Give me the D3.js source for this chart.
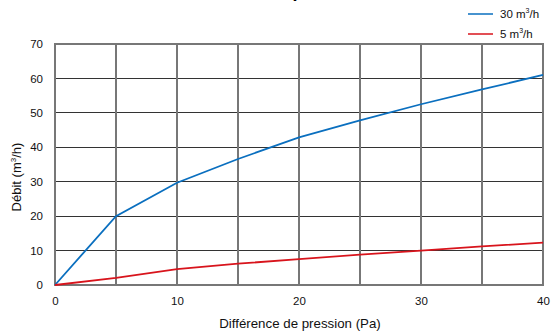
<!DOCTYPE html>
<html><head><meta charset="utf-8">
<script src="https://cdn.jsdelivr.net/npm/d3@7"></script>
<style>body{margin:0;background:#fff}svg{display:block;font-family:"Liberation Sans",Arial,sans-serif}</style>
</head><body>
<svg id="c" width="551" height="331"></svg>
<script>
const pressure = [0, 5, 10, 15, 20, 25, 30, 35, 40];
const flow30 = [0, 20, 29.7, 36.6, 42.9, 47.8, 52.5, 56.8, 61];
const flow5 = [0, 2.1, 4.6, 6.2, 7.5, 8.8, 10, 11.2, 12.3];
const seriesNames = ["30 m³/h", "5 m³/h"];
const xTicks = [0, 10, 20, 30, 40];
const yTicks = [0, 10, 20, 30, 40, 50, 60, 70];
const title = "Débit / pression";

const svg = d3.select("#c");
const m = {l: 55, r: 543, t: 44, b: 285};
const x = d3.scaleLinear().domain([0, 40]).range([m.l, m.r]);
const y = d3.scaleLinear().domain([0, 70]).range([m.b, m.t]);

svg.append("text").attr("x", 300).attr("y", -3).attr("text-anchor", "middle")
  .attr("font-size", 18).attr("font-weight", "bold").text(title);

// horizontal grid
svg.append("g").selectAll("line").data(yTicks).join("line")
  .attr("x1", m.l).attr("x2", m.r).attr("y1", d => y(d)).attr("y2", d => y(d))
  .attr("stroke", "#333").attr("stroke-width", 1).attr("shape-rendering", "crispEdges");
// vertical grid every 5
svg.append("g").selectAll("line").data(d3.range(0, 41, 5)).join("line")
  .attr("x1", d => x(d)).attr("x2", d => x(d)).attr("y1", m.t).attr("y2", m.b)
  .attr("stroke", "#777").attr("stroke-width", 1.5).attr("shape-rendering", "crispEdges");
// frame
svg.append("rect").attr("x", m.l).attr("y", m.t).attr("width", m.r - m.l).attr("height", m.b - m.t)
  .attr("fill", "none").attr("stroke", "#777").attr("stroke-width", 1.5).attr("shape-rendering", "crispEdges");

// axes labels via d3 axes
const ya = svg.append("g").attr("transform", `translate(${m.l},0)`)
  .call(d3.axisLeft(y).tickValues(yTicks).tickSize(0).tickPadding(12));
const xa = svg.append("g").attr("transform", `translate(0,${m.b})`)
  .call(d3.axisBottom(x).tickValues(xTicks).tickSize(0).tickPadding(12));
[ya, xa].forEach(g => { g.select(".domain").remove();
  g.selectAll("text").attr("font-size", 11.5).attr("fill", "#111").attr("font-family", "Liberation Sans, Arial, sans-serif"); });

const line = d3.line().x((d, i) => x(pressure[i])).y(d => y(d));
svg.append("path").datum(flow30).attr("d", line).attr("fill", "none").attr("stroke", "#0a6fbf").attr("stroke-width", 1.8);
svg.append("path").datum(flow5).attr("d", line).attr("fill", "none").attr("stroke", "#d8141c").attr("stroke-width", 1.8);

// axis titles
svg.append("text").attr("x", 300).attr("y", 328).attr("text-anchor", "middle").attr("font-size", 13.3).attr("fill", "#111")
  .text("Différence de pression (Pa)");
const yt = svg.append("text").attr("transform", "translate(21,177) rotate(-90)").attr("text-anchor", "middle")
  .attr("font-size", 13).attr("fill", "#111");
yt.append("tspan").text("Débit (m");
yt.append("tspan").attr("font-size", 8).attr("dy", -5).text("3");
yt.append("tspan").attr("dy", 5).text("/h)");

// legend
const colors = ["#0a6fbf", "#d8141c"];
seriesNames.forEach((n, i) => {
  const ly = 14 + i * 20;
  svg.append("line").attr("x1", 468).attr("x2", 493).attr("y1", ly).attr("y2", ly)
    .attr("stroke", colors[i]).attr("stroke-width", 1.5);
  const t = svg.append("text").attr("x", 500).attr("y", ly + 4).attr("font-size", 11.5).attr("fill", "#111");
  const parts = n.split("³");
  t.append("tspan").text(parts[0]);
  t.append("tspan").attr("font-size", 7).attr("dy", -5).text("3");
  t.append("tspan").attr("dy", 5).text(parts[1]);
});
</script>
</body></html>
